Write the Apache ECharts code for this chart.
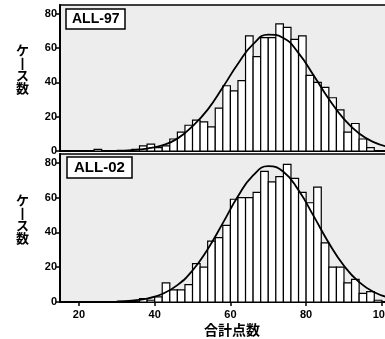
<!DOCTYPE html>
<html lang="ja">
<head>
<meta charset="UTF-8">
<title>ケース数 histogram</title>
<script src="https://cdn.jsdelivr.net/npm/echarts@6/dist/echarts.min.js"></script>
<style>
  html, body { margin: 0; padding: 0; background: #fff; }
  #chart { width: 385px; height: 339px; }
</style>
</head>
<body>
<div id="chart"></div>
<script>
// bin starts (width 2 points)
const binStarts = [24, 26, 28, 30, 32, 34, 36, 38, 40, 42, 44, 46, 48, 50, 52, 54, 56, 58, 60, 62,
                   64, 66, 68, 70, 72, 74, 76, 78, 80, 82, 84, 86, 88, 90, 92, 94, 96, 98];
const binWidth = 2;

// ALL-97 counts
const counts97 = [1, 0, 0, 0, 0, 1, 3, 4, 2, 3, 7, 11, 15, 18, 17, 14, 25, 38, 35, 41,
                  67, 55, 66, 66, 74, 72, 65, 67, 44, 40, 37, 31, 24, 11, 16, 7, 2, 0];
// ALL-02 counts
const counts02 = [0, 0, 0, 0, 0, 0, 2, 1, 3, 11, 7, 7, 10, 22, 20, 35, 37, 44, 59, 60,
                  60, 63, 75, 69, 72, 79, 71, 63, 57, 66, 34, 20, 20, 11, 13, 5, 6, 1];

// normal curves
const curveX   = [30, 34, 38, 42, 46, 50, 54, 58, 62, 66, 70, 74, 78, 82, 86, 90, 94, 98, 102, 106];
const curve97  = [0.2, 0.5, 1.4, 3.3, 7.2, 14.5, 24.1, 37.1, 50.8, 62.2, 67.8, 65.8, 57, 44, 30.3, 18.6, 10.2, 5, 2.2, 0.8];
const curve02  = [0.3, 0.8, 2.0, 4.6, 9.7, 18.1, 30.3, 45.3, 60.7, 72.7, 78, 74.8, 64.2, 49.3, 33.9, 20.8, 11.4, 5.6, 2.5, 0.9];

const xTicks = [20, 40, 60, 80, 100];

const chart = echarts.init(document.getElementById('chart'));

function barData(counts) {
  return binStarts.map((b, i) => [b, counts[i]]);
}
function lineData(vals) {
  return curveX.map((x, i) => [x, vals[i]]);
}
function renderBar(params, api) {
  const x0 = api.value(0), y = api.value(1);
  if (!y) return null;
  const p0 = api.coord([x0, y]);
  const p1 = api.coord([x0 + binWidth, 0]);
  return {
    type: 'rect',
    shape: { x: p0[0], y: p0[1], width: p1[0] - p0[0], height: p1[1] - p0[1] },
    style: { fill: '#fff', stroke: '#000', lineWidth: 1.2 }
  };
}

const labelFont = { color: '#000', fontFamily: 'Liberation Sans', fontWeight: 'bold', fontSize: 11 };
const cjkFont = 'Noto Sans CJK JP';

function yAxis(idx) {
  return {
    type: 'value', gridIndex: idx, min: 0, max: 85, interval: 20,
    axisLine: { show: true, lineStyle: { color: '#000', width: 2 } },
    axisTick: { show: true, length: 4, lineStyle: { color: '#000', width: 1.5 } },
    axisLabel: Object.assign({ margin: 3, showMaxLabel: false }, labelFont),
    splitLine: { show: false }
  };
}

const option = {
  animation: false,
  backgroundColor: '#fff',
  grid: [
    { left: 60, top: 5, width: 337, height: 146, outerBoundsMode: 'none', show: true, backgroundColor: '#ededed', borderColor: '#000', borderWidth: 1.5 },
    { left: 60, top: 154, width: 337, height: 148, outerBoundsMode: 'none', show: true, backgroundColor: '#ededed', borderColor: '#000', borderWidth: 1.5 }
  ],
  title: [
    { text: 'ALL-97', left: 66, top: 9, padding: [3, 6], backgroundColor: '#fff', borderColor: '#000', borderWidth: 1.5,
      textStyle: { color: '#000', fontFamily: 'Liberation Sans', fontWeight: 'bold', fontSize: 14 } },
    { text: 'ALL-02', left: 67, top: 157, padding: [3, 7], backgroundColor: '#fff', borderColor: '#000', borderWidth: 1.5,
      textStyle: { color: '#000', fontFamily: 'Liberation Sans', fontWeight: 'bold', fontSize: 15 } }
  ],
  xAxis: [
    { type: 'value', gridIndex: 0, min: 15, max: 104,
      axisLine: { show: true, lineStyle: { color: '#000', width: 2 } },
      axisTick: { show: false }, axisLabel: { show: false }, splitLine: { show: false } },
    { type: 'value', gridIndex: 1, min: 15, max: 104,
      axisLine: { show: true, lineStyle: { color: '#000', width: 2 } },
      axisTick: { show: true, length: 4, lineStyle: { color: '#000', width: 1.5 } },
      axisLabel: Object.assign({
        margin: 7, showMinLabel: false, showMaxLabel: false,
        formatter: v => (xTicks.indexOf(v) >= 0 ? String(v) : '')
      }, labelFont),
      splitLine: { show: false } }
  ],
  yAxis: [yAxis(0), yAxis(1)],
  graphic: [
    { type: 'text', left: 16, top: 44, style: { text: 'ケ\n丨\nス\n数', fill: '#000', font: 'bold 13px "' + cjkFont + '"', lineHeight: 12.5, align: 'center' } },
    { type: 'text', left: 16, top: 194, style: { text: 'ケ\n丨\nス\n数', fill: '#000', font: 'bold 13px "' + cjkFont + '"', lineHeight: 12.5, align: 'center' } },
    { type: 'text', left: 204, top: 323, style: { text: '合計点数', fill: '#000', font: 'bold 14px "' + cjkFont + '"' } }
  ],
  series: [
    { type: 'custom', xAxisIndex: 0, yAxisIndex: 0, renderItem: renderBar, encode: { x: 0, y: 1 }, data: barData(counts97), clip: true },
    { type: 'line', xAxisIndex: 0, yAxisIndex: 0, data: lineData(curve97), smooth: true, symbol: 'none',
      lineStyle: { color: '#000', width: 1.8 }, z: 5 },
    { type: 'custom', xAxisIndex: 1, yAxisIndex: 1, renderItem: renderBar, encode: { x: 0, y: 1 }, data: barData(counts02), clip: true },
    { type: 'line', xAxisIndex: 1, yAxisIndex: 1, data: lineData(curve02), smooth: true, symbol: 'none',
      lineStyle: { color: '#000', width: 1.8 }, z: 5 }
  ]
};

chart.setOption(option);
</script>
</body>
</html>
